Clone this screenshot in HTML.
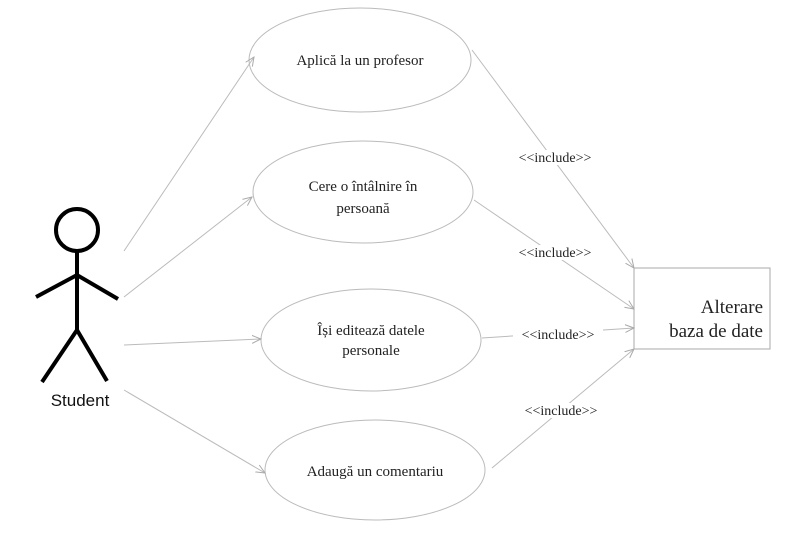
<!DOCTYPE html>
<html><head><meta charset="utf-8"><style>
body{margin:0;background:#fff;}
svg{display:block}
.s{font-family:"Liberation Serif",serif;fill:#222}
</style></head><body>
<svg width="809" height="541" viewBox="0 0 809 541" xmlns="http://www.w3.org/2000/svg">
<defs><marker id="a" markerWidth="10" markerHeight="10" refX="9" refY="5" orient="auto" markerUnits="userSpaceOnUse"><path d="M0,1 L9,5 L0,9" fill="none" stroke="#aaa" stroke-width="1"/></marker></defs>
<g fill="none" stroke="#bbb" stroke-width="1">
<ellipse cx="360" cy="60" rx="111" ry="52"/>
<ellipse cx="363" cy="192" rx="110" ry="51"/>
<ellipse cx="371" cy="340" rx="110" ry="51"/>
<ellipse cx="375" cy="470" rx="110" ry="50"/>
<rect x="634" y="268" width="136" height="81" stroke="#aaa"/>
<g marker-end="url(#a)">
<line x1="124" y1="251" x2="254" y2="57"/>
<line x1="124" y1="297" x2="252" y2="197"/>
<line x1="124" y1="345" x2="261" y2="339"/>
<line x1="124" y1="390" x2="265" y2="473"/>
<line x1="472" y1="50" x2="634" y2="268"/>
<line x1="474" y1="200" x2="634" y2="309"/>
<line x1="482" y1="338" x2="634" y2="328"/>
<line x1="492" y1="468" x2="634" y2="349"/>
</g></g>
<g fill="#fff">
<rect x="510" y="150" width="90" height="15"/>
<rect x="510" y="245" width="90" height="15"/>
<rect x="513" y="327" width="90" height="15"/>
<rect x="516" y="403" width="90" height="15"/>
</g>
<g class="s" font-size="14" text-anchor="middle">
<text x="555" y="162">&lt;&lt;include&gt;&gt;</text>
<text x="555" y="257">&lt;&lt;include&gt;&gt;</text>
<text x="558" y="339">&lt;&lt;include&gt;&gt;</text>
<text x="561" y="415">&lt;&lt;include&gt;&gt;</text>
</g>
<g class="s" font-size="15" text-anchor="middle">
<text x="360" y="65">Aplică la un profesor</text>
<text x="363" y="191">Cere o întâlnire în</text>
<text x="363" y="213">persoană</text>
<text x="371" y="335">Își editează datele</text>
<text x="371" y="355">personale</text>
<text x="375" y="476">Adaugă un comentariu</text>
</g>
<g class="s" font-size="19" text-anchor="end">
<text x="763" y="313">Alterare</text>
<text x="763" y="337">baza de date</text>
</g>
<g fill="none" stroke="#000" stroke-width="4" stroke-linecap="butt">
<circle cx="77" cy="230" r="21"/>
<line x1="77" y1="252" x2="77" y2="330"/>
<polyline points="36,297 77,275 118,299"/>
<polyline points="42,382 77,330 107,381"/>
</g>
<text x="80" y="406" font-family="Liberation Sans,sans-serif" font-size="17" text-anchor="middle" fill="#111">Student</text>
</svg>
</body></html>
